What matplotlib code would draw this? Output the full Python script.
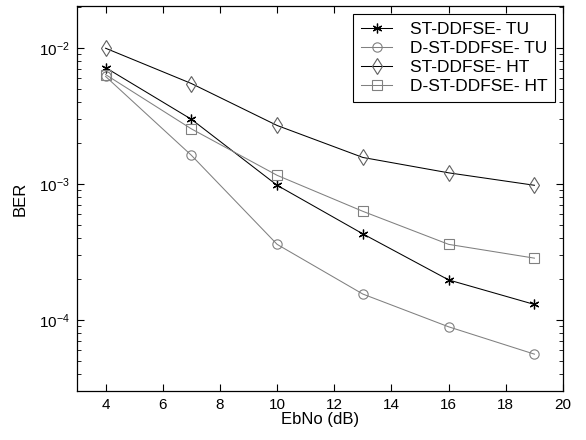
import matplotlib
matplotlib.use("Agg")
import matplotlib.pyplot as plt
from matplotlib.ticker import LogLocator, NullFormatter

plt.rcParams["font.family"] = ["Liberation Sans", "DejaVu Sans"]
plt.rcParams["mathtext.default"] = "regular"

ebno = [4, 7, 10, 13, 16, 19]
st_tu = [7.2e-3, 3.0e-3, 9.8e-4, 4.3e-4, 1.97e-4, 1.30e-4]
dst_tu = [6.2e-3, 1.63e-3, 3.6e-4, 1.55e-4, 8.9e-5, 5.6e-5]
st_ht = [1.0e-2, 5.5e-3, 2.7e-3, 1.57e-3, 1.21e-3, 9.8e-4]
dst_ht = [6.4e-3, 2.55e-3, 1.16e-3, 6.3e-4, 3.6e-4, 2.85e-4]

labels = ["ST-DDFSE- TU", "D-ST-DDFSE- TU", "ST-DDFSE- HT", "D-ST-DDFSE- HT"]

fig = plt.figure(figsize=(5.86, 4.40), dpi=100)
ax = fig.add_axes([0.1314, 0.1114, 0.8294, 0.8746])

gray = "#808080"
asterisk = (6, 2, 0)
ax.semilogy(ebno, st_tu, color="black", lw=0.75, marker=asterisk, ms=7,
            mfc="black", mec="black", mew=0.9, label=labels[0])
ax.semilogy(ebno, dst_tu, color=gray, lw=0.75, marker="o", ms=6.7,
            mfc="none", mec=gray, mew=0.8, label=labels[1])
ax.semilogy(ebno, st_ht, color="black", lw=0.75, marker="d", ms=8,
            mfc="none", mec="#606060", mew=0.8, label=labels[2])
ax.semilogy(ebno, dst_ht, color=gray, lw=0.75, marker="s", ms=7,
            mfc="none", mec=gray, mew=0.8, label=labels[3])

ax.set_xlim(3, 20)
ax.set_ylim(3e-5, 2.04e-2)
ax.set_xticks(range(4, 21, 2))
ax.yaxis.set_major_locator(LogLocator(base=10, numticks=10))
ax.yaxis.set_minor_locator(LogLocator(base=10, subs=range(2, 10), numticks=20))
ax.yaxis.set_minor_formatter(NullFormatter())

ax.tick_params(which="both", direction="in", top=True, right=True,
               labelsize=11, colors="black")
ax.tick_params(which="major", length=5, width=0.8, pad=5)
ax.tick_params(which="minor", length=3, width=0.6)
for s in ax.spines.values():
    s.set_linewidth(0.9)

ax.set_xlabel("EbNo (dB)", fontsize=12, labelpad=0)
ax.set_ylabel("BER", fontsize=12, labelpad=8)

leg = ax.legend(loc="upper right", fontsize=12.5, frameon=True, fancybox=False,
                edgecolor="black", framealpha=1, handlelength=1.8,
                borderaxespad=0.45, labelspacing=0.22, borderpad=0.45,
                handletextpad=1.0)
leg.get_frame().set_linewidth(0.8)

fig.savefig("out.png", dpi=100, facecolor="white")
